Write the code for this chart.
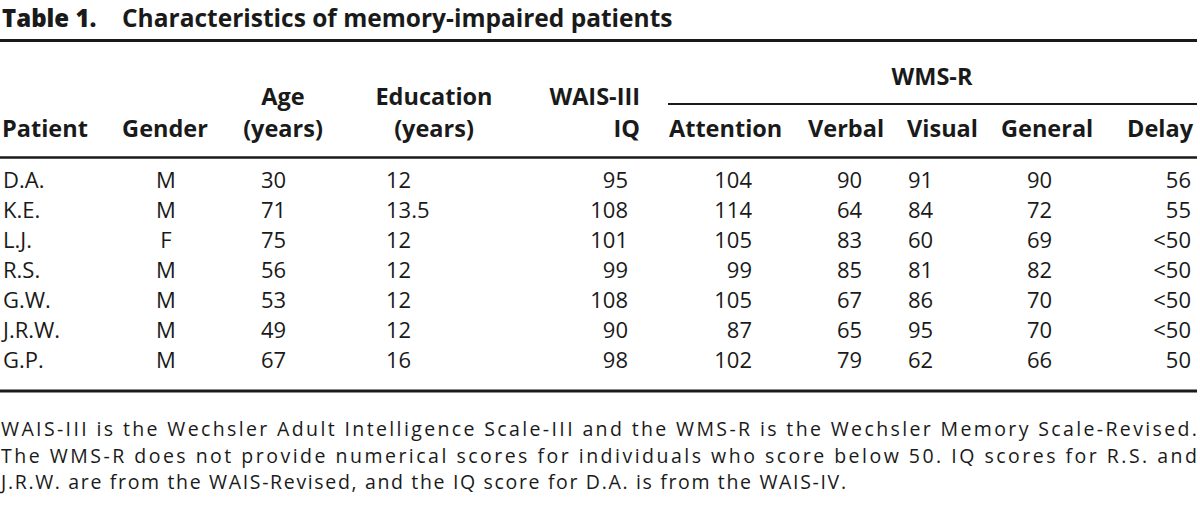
<!DOCTYPE html>
<html>
<head>
<meta charset="utf-8">
<script src="https://cdn.jsdelivr.net/npm/d3@7"></script>
<style>
	body { margin: 0; background: #fff; }
	svg { display: block; font-family: "Open Sans", "Noto Sans", sans-serif; }
</style>
</head>
<body>
<div id="table1"></div>
<script>
// table values
const patients = ["D.A.", "K.E.", "L.J.", "R.S.", "G.W.", "J.R.W.", "G.P."];
const gender = ["M", "M", "F", "M", "M", "M", "M"];
const age = [30, 71, 75, 56, 53, 49, 67];
const education = ["12", "13.5", "12", "12", "12", "12", "16"];
const iq = [95, 108, 101, 99, 108, 90, 98];
const attention = [104, 114, 105, 99, 105, 87, 102];
const verbal = [90, 64, 83, 85, 67, 65, 79];
const visual = [91, 84, 60, 81, 86, 95, 62];
const general = [90, 72, 69, 82, 70, 70, 66];
const delay = ["56", "55", "<50", "<50", "<50", "<50", "50"];

const footnote = [
	"WAIS-III is the Wechsler Adult Intelligence Scale-III and the WMS-R is the Wechsler Memory Scale-Revised.",
	"The WMS-R does not provide numerical scores for individuals who score below 50. IQ scores for R.S. and",
	"J.R.W. are from the WAIS-Revised, and the IQ score for D.A. is from the WAIS-IV."
];
// line widths in the printed footnote (first two justified)
const footnoteWidths = [1196, 1196, 845];

const width = 1200;
const height = 514;
const ink = "#1a1a1a";

const svg = d3
	.select("#table1")
	.append("svg")
	.attr("width", width)
	.attr("height", height);

// column layout: header lines + anchors, data anchor
const columns = [
	{ head: ["", "Patient"], hx: 2, ha: "start", values: patients, dx: 3, da: "start" },
	{ head: ["", "Gender"], hx: 165, ha: "middle", values: gender, dx: 166, da: "middle" },
	{ head: ["Age", "(years)"], hx: 283, ha: "middle", values: age, dx: 261, da: "start" },
	{ head: ["Education", "(years)"], hx: 434, ha: "middle", values: education, dx: 386, da: "start" },
	{ head: ["WAIS-III", "IQ"], hx: 640, ha: "end", values: iq, dx: 628, da: "end" },
	{ head: ["", "Attention"], hx: 669, ha: "start", values: attention, dx: 752, da: "end" },
	{ head: ["", "Verbal"], hx: 808, ha: "start", values: verbal, dx: 837, da: "start" },
	{ head: ["", "Visual"], hx: 907, ha: "start", values: visual, dx: 908, da: "start" },
	{ head: ["", "General"], hx: 1001, ha: "start", values: general, dx: 1027, da: "start" },
	{ head: ["", "Delay"], hx: 1193, ha: "end", values: delay, dx: 1191, da: "end" }
];

// rows
const y = d3
	.scalePoint()
	.domain(patients)
	.range([188, 368]);

// title
const title = svg.append("text").attr("x", 2).attr("y", 27).style("fill", ink);
title
	.append("tspan")
	.style("font-size", "24px")
	.style("font-weight", 800)
	.text("Table 1.");
title
	.append("tspan")
	.attr("x", 122)
	.style("font-size", "24.5px")
	.style("font-weight", 700)
	.text("Characteristics of memory-impaired patients");

// rules
function rule(x1, x2, yy, w) {
	svg
		.append("line")
		.attr("x1", x1)
		.attr("x2", x2)
		.attr("y1", yy)
		.attr("y2", yy)
		.style("stroke", ink)
		.style("stroke-width", w);
}
rule(0, 1197, 40.5, 3);
rule(668, 1197, 104, 2);
rule(0, 1197, 157.5, 2.5);
rule(0, 1197, 391, 3);

// WMS-R spanner
svg
	.append("text")
	.attr("x", 932)
	.attr("y", 85)
	.attr("text-anchor", "middle")
	.style("font-size", "23.5px")
	.style("font-weight", 700)
	.style("fill", ink)
	.text("WMS-R");

// headers
const head = svg.append("g").attr("class", "header");
columns.forEach(c => {
	c.head.forEach((h, i) => {
		if (!h) return;
		head
			.append("text")
			.attr("x", c.hx)
			.attr("y", i === 0 ? 105 : 137)
			.attr("text-anchor", c.ha)
			.style("font-size", "23.5px")
			.style("font-weight", 700)
			.style("fill", ink)
			.text(h);
	});
});

// body cells
columns.forEach(c => {
	svg
		.append("g")
		.selectAll("text")
		.data(c.values)
		.enter()
		.append("text")
		.attr("x", c.dx)
		.attr("y", (d, i) => y(patients[i]))
		.attr("text-anchor", c.da)
		.style("font-size", "22px")
		.style("fill", ink)
		.text(d => d);
});

// footnote
svg
	.append("g")
	.selectAll("text")
	.data(footnote)
	.enter()
	.append("text")
	.attr("x", 1)
	.attr("y", (d, i) => 436 + i * 26.5)
	.attr("textLength", (d, i) => footnoteWidths[i])
	.attr("lengthAdjust", "spacing")
	.style("font-size", "19.5px")
	.style("fill", ink)
	.text(d => d);
</script>
</body>
</html>
